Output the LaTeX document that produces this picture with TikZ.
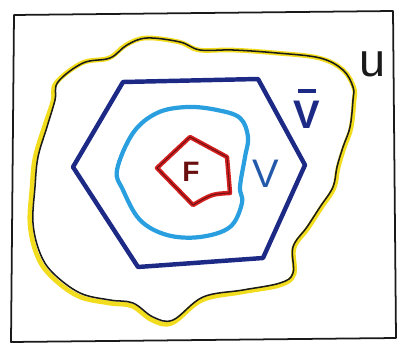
\documentclass[tikz,border=0pt]{standalone}
\usepackage{fontspec}
\setmainfont{Liberation Sans}
\usepackage{tikz}
\definecolor{frameink}{HTML}{1A1A1A}
\definecolor{uyellow}{HTML}{F2DC1E}
\definecolor{vbarblue}{HTML}{1C2A85}
\definecolor{vblue}{HTML}{2A9FE0}
\definecolor{fred}{HTML}{D42020}
\definecolor{fdark}{HTML}{6A0F0F}

\begin{document}
\begin{tikzpicture}[
    x=0.03cm, y=-0.03cm,
    ink/.style={draw=frameink, line width=1.3pt, line join=round},
    ublob/.style={draw=uyellow, line width=4pt, line join=round},
    hexline/.style={draw=vbarblue, line width=3.8pt, line join=round},
    vline/.style={draw=vblue, line width=3.6pt},
    fline/.style={draw=fred, line width=3.8pt, line join=round},
    lbl/.style={font=\fontsize{34}{34}\selectfont}
  ]
    \useasboundingbox (0,0) rectangle (401,349);
    % frame
    \draw[ink, line width=1.5pt] (14,15) -- (393,11) -- (396,338) -- (11,342) -- cycle;
    % U
    \draw[ublob, shift={(-1,1)}] plot[smooth cycle, tension=0.6] coordinates {
      (57,82) (83,62) (110,57) (127,44) (147,37) (180,41) (200,49) (233,49)
      (277,52) (320,57) (344,69) (355,87) (355,100) (352,127) (345,147) (339,167)
      (335,187) (322,207) (309,227) (295,247) (295,273) (281,284) (243,291) (203,299)
      (173,322) (153,319) (133,305) (110,302) (79,295) (52,275) (38,254) (31,223)
      (33,187) (36,157) (45,127) (54,100)};
    \draw[ink] plot[smooth cycle, tension=0.6] coordinates {
      (58,82) (83,63) (110,58) (127,45) (147,38) (180,42) (200,50) (233,50)
      (277,53) (320,58) (343,70) (353,87) (353,100) (350,127) (343,147) (337,167)
      (333,187) (320,207) (307,227) (293,247) (293,273) (280,283) (243,290) (203,297)
      (173,320) (153,317) (133,303) (110,300) (80,293) (53,273) (40,253) (33,223)
      (35,187) (38,157) (47,127) (55,100)};
    % V bar
    \draw[hexline] (123,82) -- (258,79) -- (305,165) -- (263,258) -- (138,267) -- (73,167) -- cycle;
    % V
    \draw[vline] plot[smooth cycle, tension=0.6] coordinates {
      (117,170) (133,133) (157,113) (187,107) (217,110) (240,118) (248,137)
      (245,157) (240,187) (242,203) (230,227) (200,237) (167,235) (140,220) (123,190)};
    % F
    \draw[fline] (157,168) -- (190,137) -- (227,157) -- (230,193)
      .. controls (212,194) .. (193,205) -- cycle;
    \draw[draw=fdark, line width=0.8pt, line join=round] (157,168) -- (190,137) -- (227,157) -- (230,193)
      .. controls (212,194) .. (193,205) -- cycle;
    \node[lbl, text=fdark, font=\fontsize{24}{24}\selectfont\bfseries] (flabel) at (191,172) {F};
    \node[lbl, text=vbarblue!60!vblue] (vlabel) at (266,174) {V};
    \node[lbl, text=vbarblue, align=center, inner sep=0pt,
      font=\fontsize{34}{30}\selectfont\bfseries] (vbarlabel) at (307,109) {\rule{15pt}{3.5pt}\\V};
    \node[lbl, text=frameink, font=\fontsize{40}{40}\selectfont] (ulabel) at (373,64) {u};
  \end{tikzpicture}
\end{document}
